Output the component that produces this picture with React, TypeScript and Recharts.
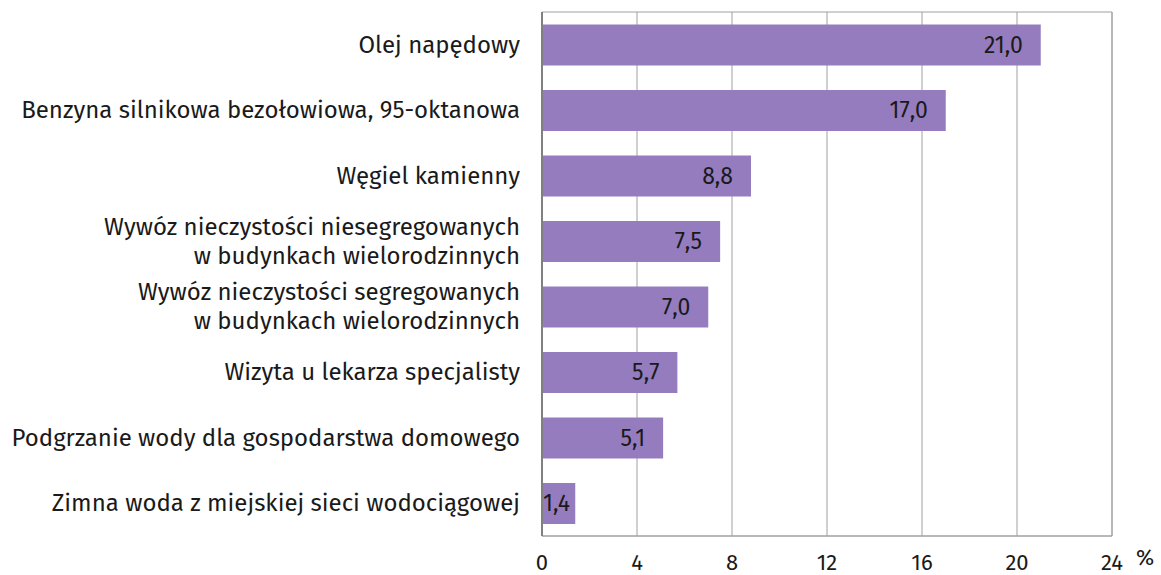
import { BarChart, Bar, XAxis, YAxis, CartesianGrid, ReferenceArea, LabelList } from 'recharts'

const categories = [
  ['Olej napędowy'],
  ['Benzyna silnikowa bezołowiowa, 95-oktanowa'],
  ['Węgiel kamienny'],
  ['Wywóz nieczystości niesegregowanych', 'w budynkach wielorodzinnych'],
  ['Wywóz nieczystości segregowanych', 'w budynkach wielorodzinnych'],
  ['Wizyta u lekarza specjalisty'],
  ['Podgrzanie wody dla gospodarstwa domowego'],
  ['Zimna woda z miejskiej sieci wodociągowej'],
]
const values = [21.0, 17.0, 8.8, 7.5, 7.0, 5.7, 5.1, 1.4]
const xTicks = [0, 4, 8, 12, 16, 20, 24]

const data = categories.map((lines, i) => ({ name: lines.join('\n'), value: values[i] }))

const FONT = "'Fira Sans', 'Noto Sans', sans-serif"
const TEXT = '#1a1a1a'

const CategoryTick = ({ x, y, payload }: any) => {
  const lines = String(payload.value).split('\n')
  const lh = 29
  const start = -((lines.length - 1) * lh) / 2
  return (
    <text x={x} y={y} textAnchor="end" fontFamily={FONT} fontSize={24} fill={TEXT}>
      {lines.map((l, i) => (
        <tspan key={i} x={x} dy={i === 0 ? start + 8 : lh}>{l}</tspan>
      ))}
    </text>
  )
}

const ValueLabel = ({ x, y, width, height, value }: any) => {
  const txt = Number(value).toFixed(1).replace('.', ',')
  const end = x + width - 18
  const approx = txt.length * 11
  const useStart = end - approx < x + 1
  return (
    <text
      x={useStart ? x + 1 : end}
      y={y + height / 2 + 8}
      textAnchor={useStart ? 'start' : 'end'}
      fontFamily={FONT}
      fontSize={23}
      fill={TEXT}
    >
      {txt}
    </text>
  )
}

const XTick = ({ x, y, payload }: any) => (
  <text x={x} y={y + 28} textAnchor="middle" fontFamily={FONT} fontSize={22} fill={TEXT}>
    {payload.value}
  </text>
)

export default function App() {
  return (
    <div style={{ position: 'absolute', left: 0, top: 0, background: '#fff' }}>
      <BarChart
        width={1161}
        height={575}
        data={data}
        layout="vertical"
        margin={{ top: 12, right: 49, bottom: 0, left: 0 }}
        barCategoryGap="19%"
      >
        <CartesianGrid horizontal={false} stroke="#a0a0a0" />
        <ReferenceArea x1={0} x2={24} fill="none" stroke="#a0a0a0" strokeWidth={1} ifOverflow="visible" />
        <XAxis
          type="number"
          domain={[0, 24]}
          ticks={xTicks}
          height={39}
          tickLine={false}
          axisLine={{ stroke: '#a0a0a0' }}
          tick={<XTick />}
          tickMargin={0}
          label={{ value: '%', position: 'right', offset: 0, dx: 24, dy: 2, fill: TEXT, fontSize: 22, fontFamily: FONT } as any}
        />
        <YAxis
          type="category"
          dataKey="name"
          width={542}
          tickLine={false}
          axisLine={{ stroke: '#808080', strokeWidth: 2 }}
          tick={<CategoryTick />}
          tickMargin={16}
          interval={0}
        />
        <Bar dataKey="value" fill="#957cbf" isAnimationActive={false}>
          <LabelList dataKey="value" content={<ValueLabel />} />
        </Bar>
      </BarChart>
    </div>
  )
}
